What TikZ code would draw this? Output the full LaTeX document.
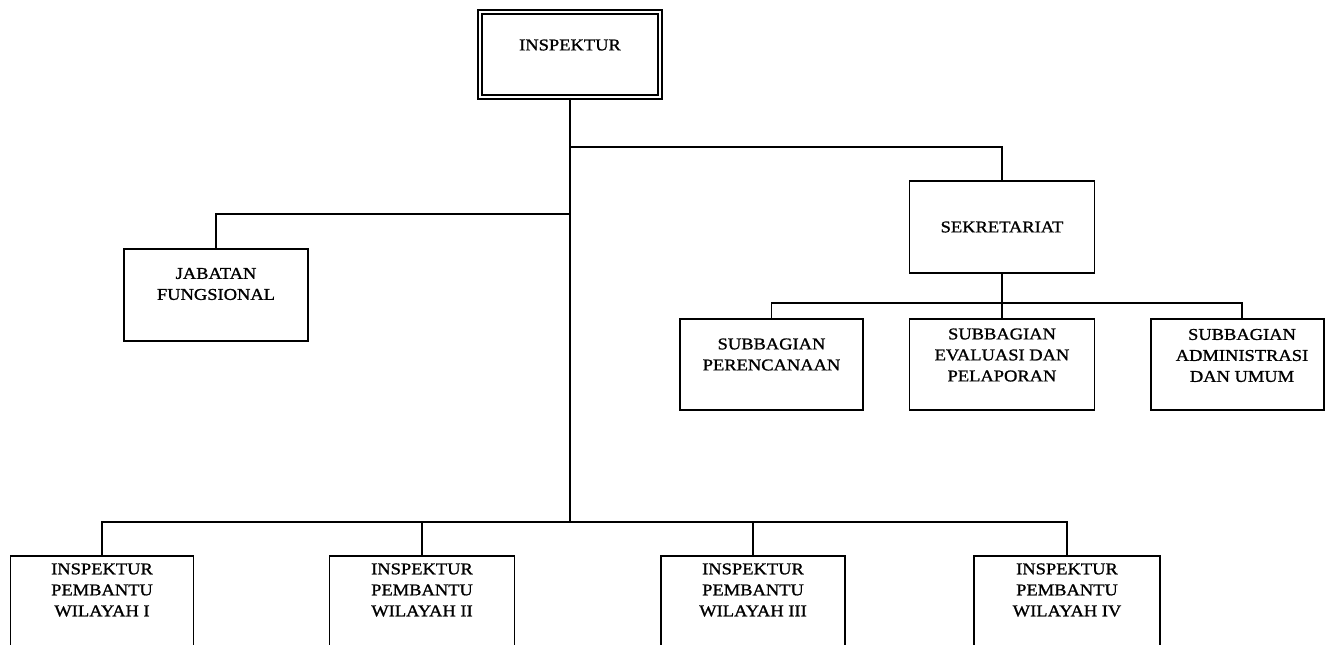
\documentclass[tikz,border=0pt]{standalone}
\usepackage{fontspec}
\setmainfont{Liberation Serif}[FakeStretch=1.12,FakeBold=1.2]
\begin{document}
\begin{tikzpicture}[x=1pt,y=-1pt,
  box/.style={draw, line width=1.7pt, rectangle, inner sep=0pt},
  lbl/.style={align=center, inner sep=0pt, font=\fontsize{16.5}{21}\selectfont},
  conn/.style={line width=1.7pt}]
\useasboundingbox (0,0) rectangle (1326,645);
\clip (0,0) rectangle (1326,645);
\fill[white] (0,0) rectangle (1326,645);
% top
\node[draw, double, double distance=2pt, line width=1.6pt, inner sep=0pt,
  minimum width=180pt, minimum height=85pt] (insp) at (570,54.5) {};
\node[lbl] (inspT) at (570,45) {INSPEKTUR};
% jabatan
\node[box, minimum width=184pt, minimum height=92pt] (jab) at (216,295) {};
\node[lbl] (jabT) at (216,284) {JABATAN\\FUNGSIONAL};
% sekretariat
\node[box, minimum width=185pt, minimum height=92pt] (sek) at (1002,227) {};
\node[lbl] (sekT) at (1002,227) {SEKRETARIAT};
% subbagian
\node[box, minimum width=183pt, minimum height=91pt] (per) at (771.5,364.5) {};
\node[lbl] (perT) at (771.5,354.5) {SUBBAGIAN\\PERENCANAAN};
\node[box, minimum width=185pt, minimum height=91pt] (eva) at (1002,364.5) {};
\node[lbl] (evaT) at (1002,355) {SUBBAGIAN\\EVALUASI DAN\\PELAPORAN};
\node[box, minimum width=173pt, minimum height=91pt] (adm) at (1237.5,364.5) {};
\node[lbl] (admT) at (1242,355.5) {SUBBAGIAN\\ADMINISTRASI\\DAN UMUM};
% inspektur pembantu
\node[box, minimum width=183pt, minimum height=100pt] (w1) at (102,606) {};
\node[lbl] (w1T) at (102,590) {INSPEKTUR\\PEMBANTU\\WILAYAH I};
\node[box, minimum width=185pt, minimum height=100pt] (w2) at (422,606) {};
\node[lbl] (w2T) at (422,590) {INSPEKTUR\\PEMBANTU\\WILAYAH II};
\node[box, minimum width=184pt, minimum height=100pt] (w3) at (753,606) {};
\node[lbl] (w3T) at (753,590) {INSPEKTUR\\PEMBANTU\\WILAYAH III};
\node[box, minimum width=186pt, minimum height=100pt] (w4) at (1067,606) {};
\node[lbl] (w4T) at (1067,590) {INSPEKTUR\\PEMBANTU\\WILAYAH IV};
% junctions
\coordinate (sekj) at (570,147);
\coordinate (jabj) at (570,214);
\coordinate (subj) at (1002,303);
\coordinate (mainj) at (570,522);
% connectors
\draw[conn] (insp.south) -- (mainj);
\draw[conn] (sekj) -| (sek.north);
\draw[conn] (jab.north) |- (jabj);
\draw[conn] (sek.south) -- (eva.north);
\draw[conn] (per.north) |- (subj);
\draw[conn] (subj) -| ([xshift=4.5pt]adm.north);
\draw[conn] (w1.north) |- (mainj);
\draw[conn] (mainj) -| (w4.north);
\draw[conn] (w2.north) -- (w2.north |- mainj);
\draw[conn] (w3.north) -- (w3.north |- mainj);
\end{tikzpicture}
\end{document}
